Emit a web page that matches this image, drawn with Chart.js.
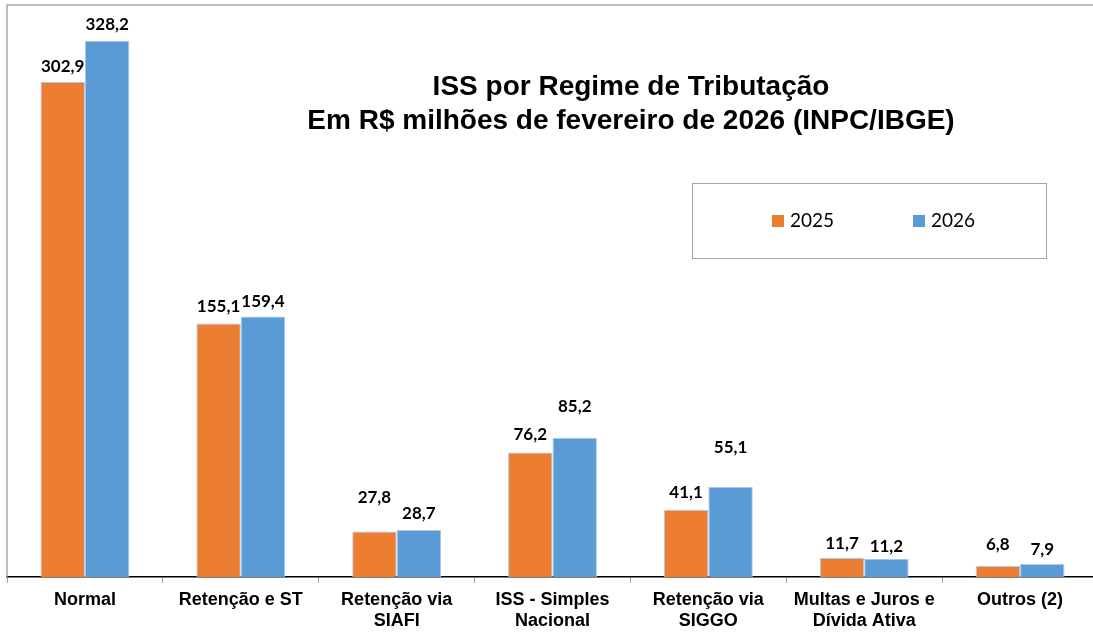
<!DOCTYPE html>
<html>
<head>
<meta charset="utf-8">
<script src="https://cdn.jsdelivr.net/npm/chart.js@4.4.1/dist/chart.umd.min.js"></script>
<style>
  html, body { margin: 0; padding: 0; background: #fff; overflow: hidden; }
  #wrap { width: 1098px; height: 635px; }
</style>
</head>
<body>
<div id="wrap"><canvas id="issChart"></canvas></div>
<script>
// data
const categories = [
  ["Normal"],
  ["Retenção e ST"],
  ["Retenção via", "SIAFI"],
  ["ISS - Simples", "Nacional"],
  ["Retenção via", "SIGGO"],
  ["Multas e Juros e", "Dívida Ativa"],
  ["Outros (2)"],
];
const seriesNames = ["2025", "2026"];
const values2025 = [302.9, 155.1, 27.8, 76.2, 41.1, 11.7, 6.8];
const values2026 = [328.2, 159.4, 28.7, 85.2, 55.1, 11.2, 7.9];
const titleLines = [
  "ISS por Regime de Tributação",
  "Em R$ milhões de fevereiro de 2026 (INPC/IBGE)",
];

// distance (px) from bar top to label centre, as placed in the original
const lift2025 = [15, 17, 34, 18, 17, 14, 21];
const lift2026 = [16, 15, 17, 31, 39, 12, 15];

const ORANGE = "#ED7D31";
const BLUE = "#5B9BD5";

const fmt = (v) => v.toFixed(1).replace(".", ",");

// frame lines (left + top of plot area)
const framePlugin = {
  id: "frame",
  beforeDatasetsDraw(chart) {
    const { ctx, chartArea: a } = chart;
    ctx.save();
    ctx.strokeStyle = "#A6A6A6";
    ctx.lineWidth = 1.5;
    ctx.beginPath();
    ctx.moveTo(a.left, a.bottom);
    ctx.lineTo(a.left, a.top);
    ctx.lineTo(chart.width, a.top);
    ctx.stroke();
    ctx.restore();
  },
};

// value labels
const labelPlugin = {
  id: "valueLabels",
  afterDatasetsDraw(chart) {
    const { ctx } = chart;
    const lifts = [lift2025, lift2026];
    ctx.save();
    ctx.font = "bold 17px Lato, 'Open Sans', sans-serif";
    ctx.fillStyle = "#000";
    ctx.textAlign = "center";
    ctx.textBaseline = "middle";
    chart.data.datasets.forEach((ds, di) => {
      chart.getDatasetMeta(di).data.forEach((bar, i) => {
        ctx.fillText(fmt(ds.data[i]), bar.x, bar.y - lifts[di][i]);
      });
    });
    ctx.restore();
  },
};

// title + boxed legend
const overlayPlugin = {
  id: "overlay",
  afterDraw(chart) {
    const { ctx } = chart;
    ctx.save();
    ctx.fillStyle = "#000";
    ctx.textAlign = "center";
    ctx.textBaseline = "middle";
    ctx.font = "bold 28px 'Liberation Sans', Arial, sans-serif";
    ctx.fillText(titleLines[0], 631, 87);
    ctx.fillText(titleLines[1], 631, 121);

    // legend box
    ctx.fillStyle = "#fff";
    ctx.fillRect(692, 183, 354, 75);
    ctx.strokeStyle = "#A6A6A6";
    ctx.lineWidth = 1;
    ctx.strokeRect(692.5, 183.5, 354, 75);

    const xs = [772, 913];
    ctx.font = "19px Lato, 'Open Sans', sans-serif";
    ctx.textAlign = "left";
    chart.data.datasets.forEach((ds, i) => {
      ctx.fillStyle = ds.backgroundColor;
      ctx.fillRect(xs[i], 215, 12, 12);
      ctx.fillStyle = "#000";
      ctx.fillText(ds.label, xs[i] + 18, 221);
    });
    ctx.restore();
  },
};

new Chart(document.getElementById("issChart"), {
  type: "bar",
  data: {
    labels: categories,
    datasets: [
      {
        label: seriesNames[0],
        data: values2025,
        backgroundColor: ORANGE,
        borderColor: "#A9C8EA",
        borderWidth: 1,
        borderSkipped: "bottom",
      },
      {
        label: seriesNames[1],
        data: values2026,
        backgroundColor: BLUE,
        borderColor: "#A9C8EA",
        borderWidth: 1,
        borderSkipped: "bottom",
      },
    ],
  },
  options: {
    responsive: true,
    maintainAspectRatio: false,
    animation: false,
    layout: { padding: { left: 7, top: 5, right: 0, bottom: 0 } },
    datasets: { bar: { barPercentage: 1, categoryPercentage: 0.57 } },
    plugins: {
      legend: { display: false },
      title: { display: false },
      tooltip: { enabled: false },
    },
    scales: {
      y: { display: false, min: 0, max: 350 },
      x: {
        afterFit: (scale) => { scale.height = 58; },
        grid: {
          display: true,
          drawOnChartArea: false,
          drawTicks: true,
          tickLength: 6,
          color: "#A6A6A6",
          offset: true,
        },
        border: { display: true, color: "#000", width: 1.5 },
        ticks: {
          color: "#000",
          padding: 6,
          maxRotation: 0,
          autoSkip: false,
          font: {
            family: "'Liberation Sans', Arial, sans-serif",
            size: 18,
            weight: "bold",
            lineHeight: 1.2,
          },
        },
      },
    },
  },
  plugins: [framePlugin, labelPlugin, overlayPlugin],
});
</script>
</body>
</html>
